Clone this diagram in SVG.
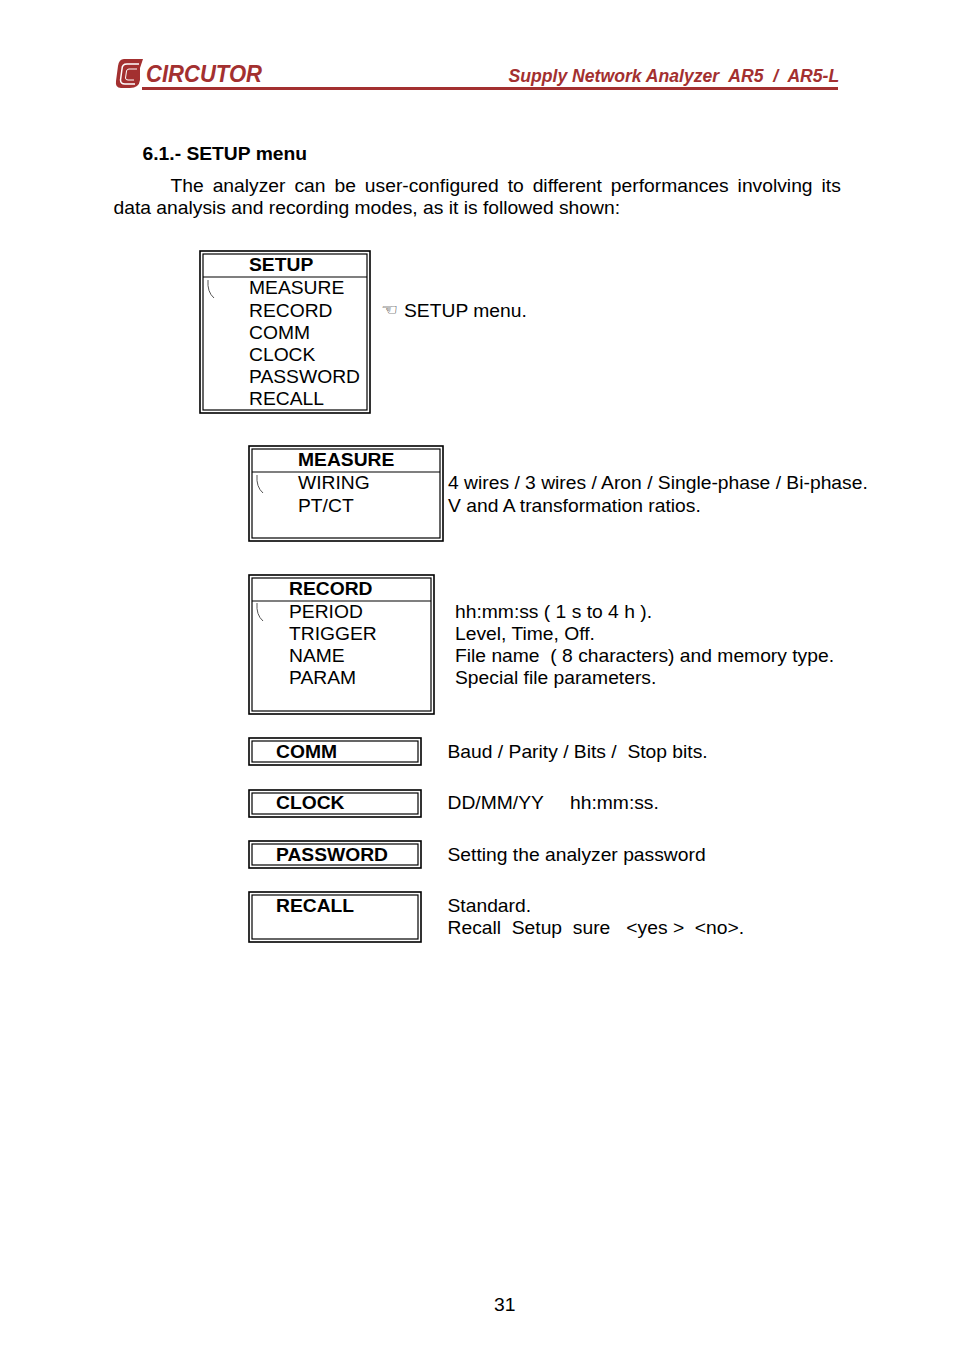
<svg xmlns="http://www.w3.org/2000/svg" width="954" height="1350" viewBox="0 0 954 1350">
<style>
text{font-family:"Liberation Sans",Arial,sans-serif;font-size:19.27px;fill:#000;white-space:pre}
.b{font-weight:bold}
.h{font-size:17.63px;font-weight:bold;font-style:italic;fill:#a33030}
.o{fill:none;stroke:#000;stroke-width:1.6}
.i{fill:none;stroke:#000;stroke-width:1.2}
.l{stroke:#000;stroke-width:1.2}
.c{fill:none;stroke:#555;stroke-width:1}
</style>
<rect width="954" height="1350" fill="#fff"/>
<g id="header">
<path d="M124 59H143L140 68V80Q139 88 130 88H121Q115 88 116 81L118 66Q119 59 124 59Z" fill="#a33030"/>
<path d="M139 64H127Q122 64 122 69L120.500 80Q120.500 84 125 84H135" fill="none" stroke="#fff" stroke-width="1.500"/>
<path d="M137 69H129Q127 69 126.500 71L125.500 78Q125.500 80 128 80H134" fill="none" stroke="#fff" stroke-width="1"/>
<text x="146" y="82" style="font-size:23px;font-weight:bold;font-style:italic;fill:#a33030" textLength="116" lengthAdjust="spacingAndGlyphs">CIRCUTOR</text>
<rect x="142" y="87" width="696" height="3" fill="#a33030"/>
<text class="h" x="508.500" y="82" xml:space="preserve">Supply Network Analyzer  AR5  /  AR5-L</text>
</g>
<g id="intro">
<text class="b" x="142.500" y="160">6.1.- SETUP menu</text>
<text x="170.500" y="192" style="word-spacing:3.6px">The analyzer can be user-configured to different performances involving its</text>
<text x="113.500" y="214">data analysis and recording modes, as it is followed shown:</text>
</g>
<g id="setup">
<rect class="o" x="200" y="251" width="170" height="162"/><rect class="i" x="203" y="254" width="164" height="156"/>
<line class="l" x1="203" y1="277" x2="367" y2="277"/>
<path class="c" d="M208 280Q207 292 214 298"/>
<text class="b" x="249" y="271">SETUP</text>
<text x="249" y="294">MEASURE</text><text x="249" y="317">RECORD</text><text x="249" y="339">COMM</text><text x="249" y="361">CLOCK</text><text x="249" y="383">PASSWORD</text><text x="249" y="405">RECALL</text>
</g>
<g id="setup-note">
<text x="381" y="315" style="font-family:'DejaVu Sans',sans-serif;font-size:16px" textLength="17" lengthAdjust="spacingAndGlyphs">☜</text>
<text x="404" y="317">SETUP menu.</text>
</g>
<g id="measure">
<rect class="o" x="249" y="446" width="194" height="95"/><rect class="i" x="252" y="449" width="188" height="89"/>
<line class="l" x1="252" y1="472" x2="440" y2="472"/>
<path class="c" d="M257 475Q256 487 263 493"/>
<text class="b" x="298" y="466">MEASURE</text>
<text x="298" y="489">WIRING</text><text x="298" y="512">PT/CT</text>
</g>
<g id="measure-note">
<text x="448" y="489">4 wires / 3 wires / Aron / Single-phase / Bi-phase.</text>
<text x="448" y="512">V and A transformation ratios.</text>
</g>
<g id="record">
<rect class="o" x="249" y="575" width="185" height="139"/><rect class="i" x="252" y="578" width="179" height="133"/>
<line class="l" x1="252" y1="601" x2="431" y2="601"/>
<path class="c" d="M257 603Q256 615 263 621"/>
<text class="b" x="289" y="595">RECORD</text>
<text x="289" y="618">PERIOD</text><text x="289" y="640">TRIGGER</text><text x="289" y="662">NAME</text><text x="289" y="684">PARAM</text>
</g>
<g id="record-note">
<text x="455" y="618">hh:mm:ss ( 1 s to 4 h ).</text>
<text x="455" y="640">Level, Time, Off.</text>
<text x="455" y="662" xml:space="preserve">File name  ( 8 characters) and memory type.</text>
<text x="455" y="684">Special file parameters.</text>
</g>
<g id="comm">
<rect class="o" x="249" y="738" width="172" height="27"/><rect class="i" x="252" y="741" width="166" height="21"/>
<text class="b" x="276" y="758">COMM</text>
</g>
<text x="447.500" y="758" xml:space="preserve">Baud / Parity / Bits /  Stop bits.</text>
<g id="clock">
<rect class="o" x="249" y="790" width="172" height="27"/><rect class="i" x="252" y="793" width="166" height="21"/>
<text class="b" x="276" y="809">CLOCK</text>
</g>
<text x="447.500" y="809">DD/MM/YY</text><text x="570" y="809">hh:mm:ss.</text>
<g id="password">
<rect class="o" x="249" y="841" width="172" height="27"/><rect class="i" x="252" y="844" width="166" height="21"/>
<text class="b" x="276" y="861">PASSWORD</text>
</g>
<text x="447.500" y="861">Setting the analyzer password</text>
<g id="recall">
<rect class="o" x="249" y="892" width="172" height="50"/><rect class="i" x="252" y="895" width="166" height="44"/>
<text class="b" x="276" y="912">RECALL</text>
</g>
<g id="recall-note">
<text x="447.500" y="912">Standard.</text>
<text x="447.500" y="934" xml:space="preserve">Recall  Setup  sure   &lt;yes &gt;  &lt;no&gt;.</text>
</g>
<text id="page" x="494" y="1311">31</text>
</svg>
